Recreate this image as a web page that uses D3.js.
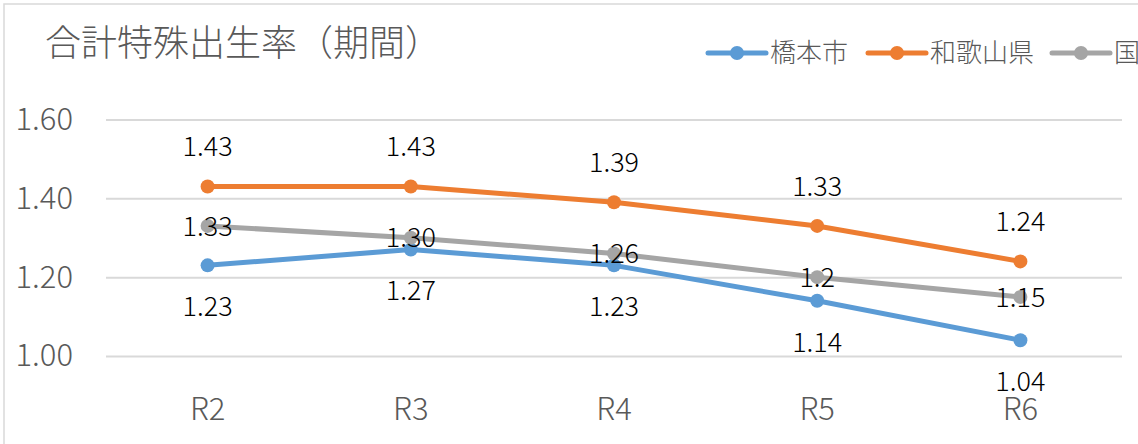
<!DOCTYPE html>
<html>
<head>
<meta charset="utf-8">
<script src="https://cdn.jsdelivr.net/npm/d3@7"></script>
<style>
  body { margin: 0; background: #fff; }
  svg { display: block; font-family: "Noto Sans CJK JP", "Noto Sans", sans-serif; }
</style>
</head>
<body>
<div id="chart"></div>
<script>
  const years = ["R2", "R3", "R4", "R5", "R6"];
  const hashimoto = [1.23, 1.27, 1.23, 1.14, 1.04];
  const wakayama = [1.43, 1.43, 1.39, 1.33, 1.24];
  const kuni = [1.33, 1.30, 1.26, 1.2, 1.15];
  const kuniLabels = ["1.33", "1.30", "1.26", "1.2", "1.15"];
  const yTicks = [1.0, 1.2, 1.4, 1.6];

  const W = 1138, H = 444;
  const plot = { left: 106, right: 1122, top: 119.5, bottom: 356 };

  const svg = d3.select("#chart").append("svg").attr("width", W).attr("height", H);
  svg.append("rect").attr("width", W).attr("height", H).attr("fill", "#fff");
  // chart border (only top/left visible)
  svg.append("rect").attr("x", 4).attr("y", 4).attr("width", W + 20).attr("height", H + 20)
    .attr("fill", "none").attr("stroke", "#d9d9d9").attr("stroke-width", 1.5);

  const x = d3.scaleBand().domain(years).range([plot.left, plot.right]);
  const y = d3.scaleLinear().domain([1.0, 1.6]).range([plot.bottom, plot.top]);
  const cx = (d) => x(d) + x.bandwidth() / 2;

  // y grid + labels
  const yAxis = svg.append("g").attr("transform", `translate(${plot.left},0)`)
    .call(d3.axisLeft(y).tickValues(yTicks).tickFormat(d3.format(".2f"))
      .tickSize(-(plot.right - plot.left)).tickPadding(33));
  yAxis.select(".domain").remove();
  yAxis.selectAll("line").attr("stroke", "#d9d9d9").attr("stroke-width", 2);
  yAxis.selectAll("text").attr("fill", "#595959").attr("font-size", 31).attr("font-weight", 300)
    .attr("font-family", "'Noto Sans CJK JP', sans-serif");

  // x labels
  const xAxis = svg.append("g").attr("transform", `translate(0,${plot.bottom})`)
    .call(d3.axisBottom(x).tickSize(0).tickPadding(42));
  xAxis.select(".domain").remove();
  xAxis.selectAll("text").attr("fill", "#595959").attr("font-size", 31).attr("font-weight", 300)
    .attr("font-family", "'Noto Sans CJK JP', sans-serif");

  const series = [
    { name: "橋本市", values: hashimoto, color: "#5B9BD5", labels: hashimoto.map(d3.format(".2f")), dy: 41 },
    { name: "和歌山県", values: wakayama, color: "#ED7D31", labels: wakayama.map(d3.format(".2f")), dy: -40 },
    { name: "国", values: kuni, color: "#A5A5A5", labels: kuniLabels, dy: 0 }
  ];

  const line = d3.line().x((d, i) => cx(years[i])).y((d) => y(d));

  // lines and markers
  series.forEach((s) => {
    svg.append("path").datum(s.values).attr("d", line).attr("fill", "none")
      .attr("stroke", s.color).attr("stroke-width", 5).attr("stroke-linejoin", "round");
    svg.selectAll(null).data(s.values).enter().append("circle")
      .attr("cx", (d, i) => cx(years[i])).attr("cy", (d) => y(d)).attr("r", 7).attr("fill", s.color);
  });

  // data labels
  series.forEach((s) => {
    svg.selectAll(null).data(s.values).enter().append("text")
      .attr("x", (d, i) => cx(years[i])).attr("y", (d) => y(d) + s.dy)
      .attr("dy", "0.36em").attr("text-anchor", "middle")
      .attr("font-size", 27).attr("font-weight", 300).attr("fill", "#000")
      .text((d, i) => s.labels[i]);
  });

  // title
  svg.append("text").attr("x", 45).attr("y", 43).attr("dy", "0.36em")
    .attr("font-size", 36).attr("fill", "#595959").attr("font-weight", 300)
    .text("合計特殊出生率（期間）");

  // legend
  const legendX = [708, 868, 1052];
  const legend = svg.append("g").attr("transform", "translate(0,53)");
  series.forEach((s, i) => {
    const g = legend.append("g").attr("transform", `translate(${legendX[i]},0)`);
    g.append("line").attr("x1", 0).attr("x2", 58).attr("stroke", s.color)
      .attr("stroke-width", 5).attr("stroke-linecap", "round");
    g.append("circle").attr("cx", 29).attr("r", 7).attr("fill", s.color);
    g.append("text").attr("x", 62).attr("dy", "0.36em").attr("font-size", 26)
      .attr("fill", "#595959").attr("font-weight", 300).text(s.name);
  });
</script>
</body>
</html>
